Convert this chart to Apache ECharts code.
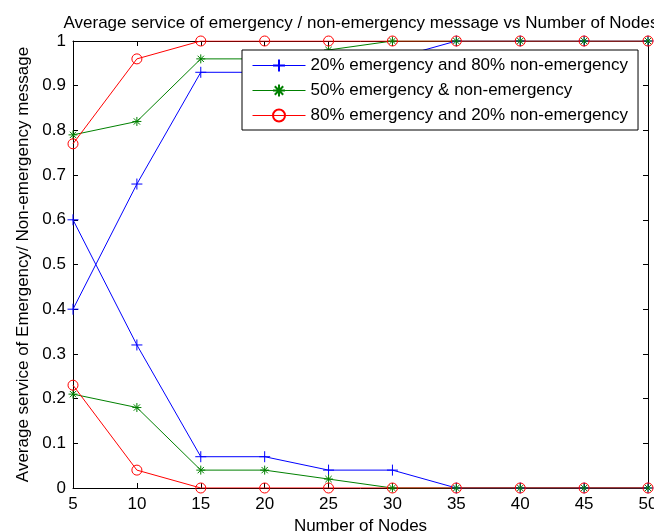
<!DOCTYPE html>
<html>
<head>
<meta charset="utf-8">
<script src="https://cdn.jsdelivr.net/npm/echarts@6/dist/echarts.min.js"></script>
<style>
  html, body { margin: 0; padding: 0; background: #fff; }
  #chart { width: 654px; height: 531px; }
</style>
</head>
<body>
<div id="chart"></div>
<script>
// number of nodes on the x axis
var nodes = [5, 10, 15, 20, 25, 30, 35, 40, 45, 50];

// 20% emergency / 80% non-emergency
var blueUpper = [0.40, 0.68, 0.93, 0.93, 0.96, 0.96, 1, 1, 1, 1];
var blueLower = [0.60, 0.32, 0.07, 0.07, 0.04, 0.04, 0, 0, 0, 0];
// 50% / 50%
var greenUpper = [0.79, 0.82, 0.96, 0.96, 0.98, 1, 1, 1, 1, 1];
var greenLower = [0.21, 0.18, 0.04, 0.04, 0.02, 0, 0, 0, 0, 0];
// 80% emergency / 20% non-emergency
var redUpper = [0.77, 0.96, 1, 1, 1, 1, 1, 1, 1, 1];
var redLower = [0.23, 0.04, 0, 0, 0, 0, 0, 0, 0, 0];

var names = [
  '20% emergency and 80% non-emergency',
  '50% emergency & non-emergency',
  '80% emergency and 20% non-emergency'
];

var FONT = 'Liberation Sans';
var plus = 'path://M0,-1V1M-1,0H1';
var star = 'path://M0,-1V1M-1,0H1M-0.7,-0.7L0.7,0.7M-0.7,0.7L0.7,-0.7';

function pairs(ys) {
  return nodes.map(function (x, i) { return [x, ys[i]]; });
}

function mkSeries(name, ys, color, symbol, size) {
  return {
    name: name,
    type: 'line',
    data: pairs(ys),
    symbol: symbol,
    symbolSize: size,
    showAllSymbol: true,
    animation: false,
    lineStyle: { color: color, width: 1 },
    itemStyle: { color: 'transparent', borderColor: color, borderWidth: 1 },
    emphasis: { disabled: true }
  };
}

var chart = echarts.init(document.getElementById('chart'));

var axisCommon = {
  axisLine: { show: true, onZero: false, lineStyle: { color: '#000', width: 1 } },
  axisTick: { inside: true, length: 5, lineStyle: { color: '#000' } },
  splitLine: { show: false }
};

option = {
  backgroundColor: '#fff',
  textStyle: { fontFamily: FONT },
  title: {
    text: 'Average service of emergency / non-emergency message vs Number of Nodes',
    left: 356,
    textAlign: 'center',
    top: 10,
    textStyle: { fontFamily: FONT, fontSize: 17, fontWeight: 'normal', color: '#000' }
  },
  legend: {
    data: names,
    orient: 'vertical',
    left: 242,
    top: 50,
    backgroundColor: '#fff',
    borderColor: '#000',
    borderWidth: 1,
    padding: [7, 10, 6, 10],
    itemGap: 8,
    itemWidth: 53,
    itemHeight: 15,
    lineStyle: { width: 1 },
    textStyle: { fontFamily: FONT, fontSize: 17, color: '#000' }
  },
  grid: { left: 73, right: 6, top: 41, bottom: 43, containLabel: false, outerBoundsMode: 'none' },
  xAxis: [
    Object.assign({
      type: 'value', min: 5, max: 50, interval: 5,
      name: 'Number of Nodes', nameLocation: 'middle', nameGap: 26,
      nameTextStyle: { fontFamily: FONT, fontSize: 17, color: '#000' },
      axisLabel: { fontFamily: FONT, fontSize: 17, color: '#000', margin: 8 }
    }, axisCommon),
    Object.assign({
      type: 'value', min: 5, max: 50, interval: 5, position: 'top',
      axisLabel: { show: false }
    }, axisCommon)
  ],
  yAxis: [
    Object.assign({
      type: 'value', min: 0, max: 1, interval: 0.1,
      name: 'Average service of Emergency/ Non-emergency message',
      nameLocation: 'middle', nameGap: 40,
      nameTextStyle: { fontFamily: FONT, fontSize: 17, color: '#000' },
      axisLabel: {
        fontFamily: FONT, fontSize: 17, color: '#000', margin: 7,
        formatter: function (v) { return +v.toFixed(1) + ''; }
      }
    }, axisCommon),
    Object.assign({
      type: 'value', min: 0, max: 1, interval: 0.1, position: 'right',
      axisLabel: { show: false }
    }, axisCommon)
  ],
  series: [
    mkSeries(names[0], blueUpper, '#0000ff', plus, 11),
    mkSeries(names[0], blueLower, '#0000ff', plus, 11),
    mkSeries(names[1], greenUpper, '#008000', star, 9),
    mkSeries(names[1], greenLower, '#008000', star, 9),
    mkSeries(names[2], redUpper, '#ff0000', 'circle', 10),
    mkSeries(names[2], redLower, '#ff0000', 'circle', 10)
  ]
};

chart.setOption(option);
</script>
</body>
</html>
